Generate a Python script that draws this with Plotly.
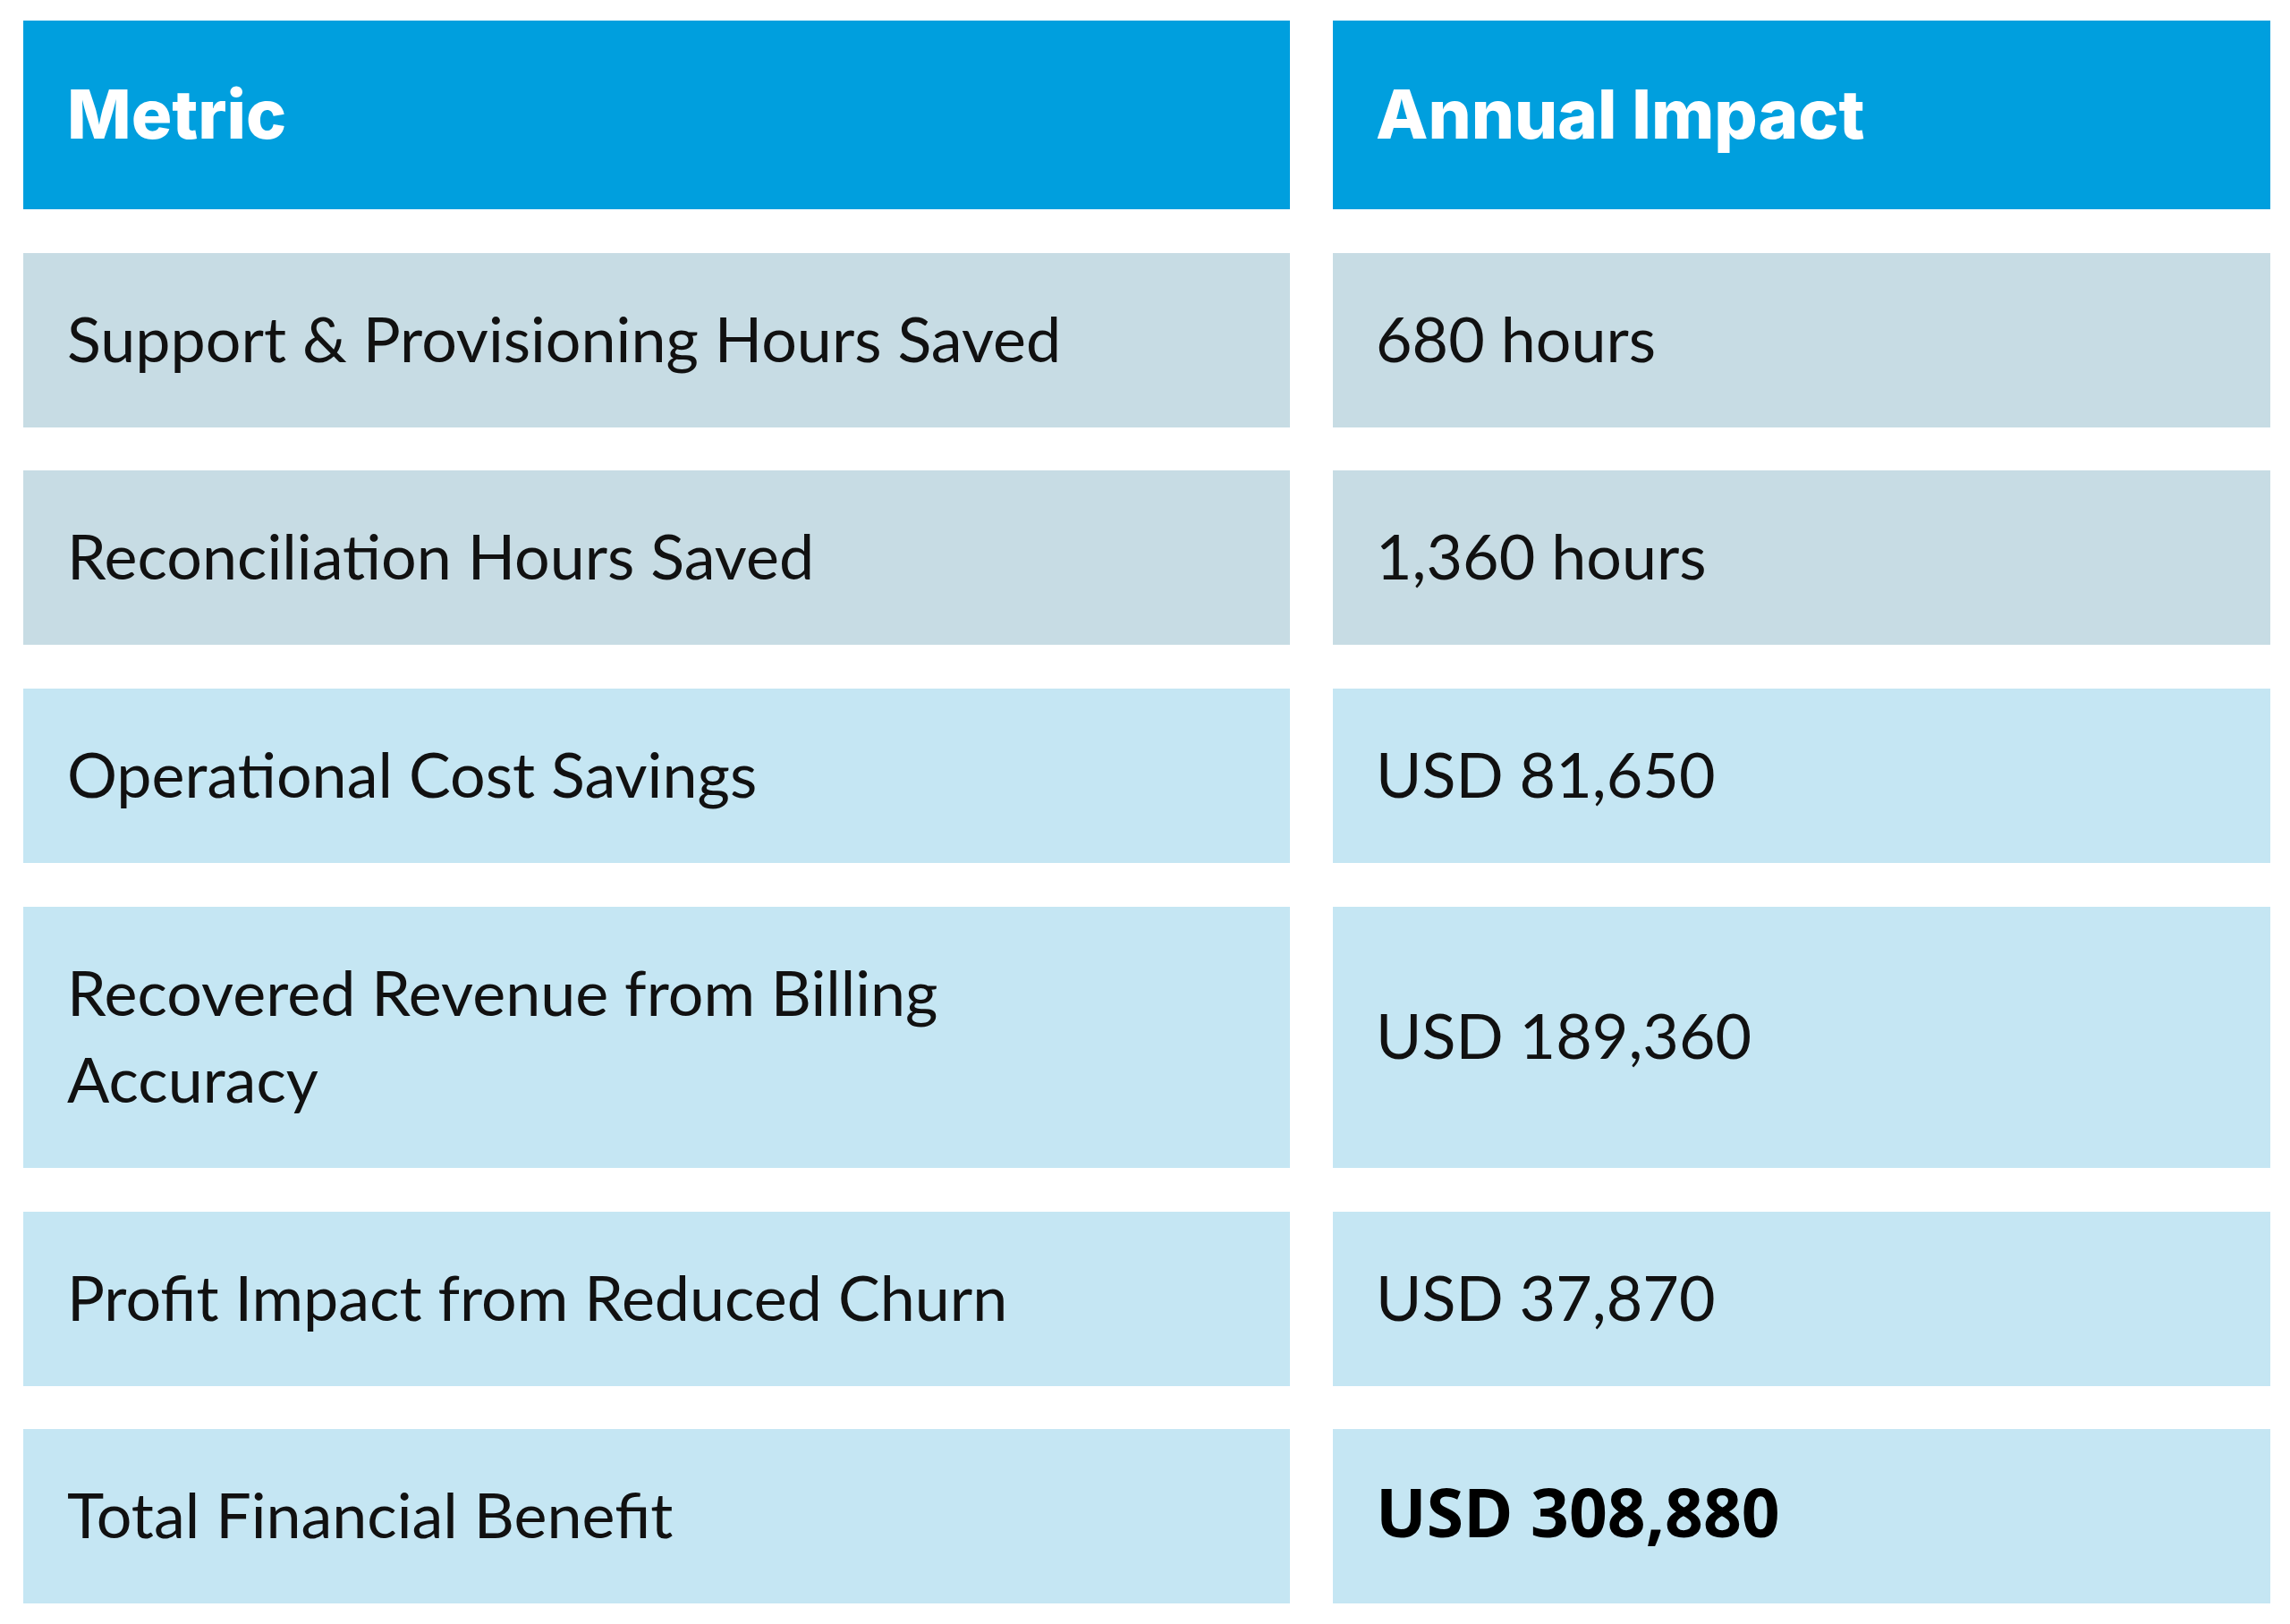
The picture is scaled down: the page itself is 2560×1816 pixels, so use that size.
import textwrap

import plotly.graph_objects as go

# table content
headers = ["Metric", "Annual Impact"]
metrics = [
    "Support & Provisioning Hours Saved",
    "Reconciliation Hours Saved",
    "Operational Cost Savings",
    "Recovered Revenue from Billing Accuracy",
    "Profit Impact from Reduced Churn",
    "Total Financial Benefit",
]
impacts = [
    "680 hours",
    "1,360 hours",
    "USD 81,650",
    "USD 189,360",
    "USD 37,870",
    "USD 308,880",
]
row_kind = ["hours", "hours", "money", "money", "money", "total"]

# layout in page pixels (the page body has an 8px margin)
W, H = 2560, 1816
off = 8
col_left = [26, 1490]
col_width = [1416, 1048]
top = 23
header_h = 211
row_h = 195
line_step = 97
gap = 48.7
pad = 49
text_dy = 7  # nudge so glyphs sit centred in the cells
wrap_chars = 34

header_color = "#009FDE"
fill_colors = {"hours": "#C7DCE4", "money": "#C5E6F3", "total": "#C5E6F3"}

body_font = "Lato"
body_size = 70

# row geometry
labels = [textwrap.wrap(m, wrap_chars) for m in metrics]
heights = [header_h] + [row_h + (len(l) - 1) * line_step for l in labels]
centers = []
y = top
for h in heights:
    centers.append(y + h / 2)
    y += h + gap

fills = [header_color] + [fill_colors[k] for k in row_kind]

fig = go.Figure()

for c in range(2):
    fig.add_trace(go.Bar(
        orientation="h",
        y=centers,
        x=[col_width[c]] * len(centers),
        base=[col_left[c]] * len(centers),
        width=heights,
        marker=dict(color=fills, line=dict(width=0)),
        hoverinfo="skip",
        showlegend=False,
    ))

# header text
fig.add_trace(go.Scatter(
    x=[col_left[0] + pad, col_left[1] + pad - 1],
    y=[centers[0] + text_dy] * 2,
    text=headers,
    mode="text",
    textposition="middle right",
    textfont=dict(family="Inter", size=76, color="white", weight=800),
    hoverinfo="skip",
    showlegend=False,
))

# metric names, one text point per wrapped line
line_x, line_y, line_text = [], [], []
for r, lines in enumerate(labels):
    n = len(lines)
    for i, ln in enumerate(lines):
        line_x.append(col_left[0] + pad)
        line_y.append(centers[r + 1] + text_dy + (i - (n - 1) / 2) * line_step)
        line_text.append(ln)

fig.add_trace(go.Scatter(
    x=line_x,
    y=line_y,
    text=line_text,
    mode="text",
    textposition="middle right",
    textfont=dict(family=body_font, size=body_size, color="#111111"),
    hoverinfo="skip",
    showlegend=False,
))

# impact values
plain = [i for i, k in enumerate(row_kind) if k != "total"]
total = [i for i, k in enumerate(row_kind) if k == "total"]
fig.add_trace(go.Scatter(
    x=[col_left[1] + pad - 1] * len(plain),
    y=[centers[i + 1] + text_dy for i in plain],
    text=[impacts[i] for i in plain],
    mode="text",
    textposition="middle right",
    textfont=dict(family=body_font, size=body_size, color="#111111"),
    hoverinfo="skip",
    showlegend=False,
))
fig.add_trace(go.Scatter(
    x=[col_left[1] + pad - 1] * len(total),
    y=[centers[i + 1] + text_dy - 2 for i in total],
    text=[impacts[i] for i in total],
    mode="text",
    textposition="middle right",
    textfont=dict(family="Open Sans", size=75, color="#000000", weight=700),
    hoverinfo="skip",
    showlegend=False,
))

fig.update_layout(
    width=W,
    height=H,
    margin=dict(l=0, r=0, t=0, b=0),
    paper_bgcolor="white",
    plot_bgcolor="white",
    barmode="overlay",
    bargap=0,
    xaxis=dict(range=[off, W + off], visible=False, fixedrange=True),
    yaxis=dict(range=[H + off, off], visible=False, fixedrange=True),
)

fig.write_html("out.html")
